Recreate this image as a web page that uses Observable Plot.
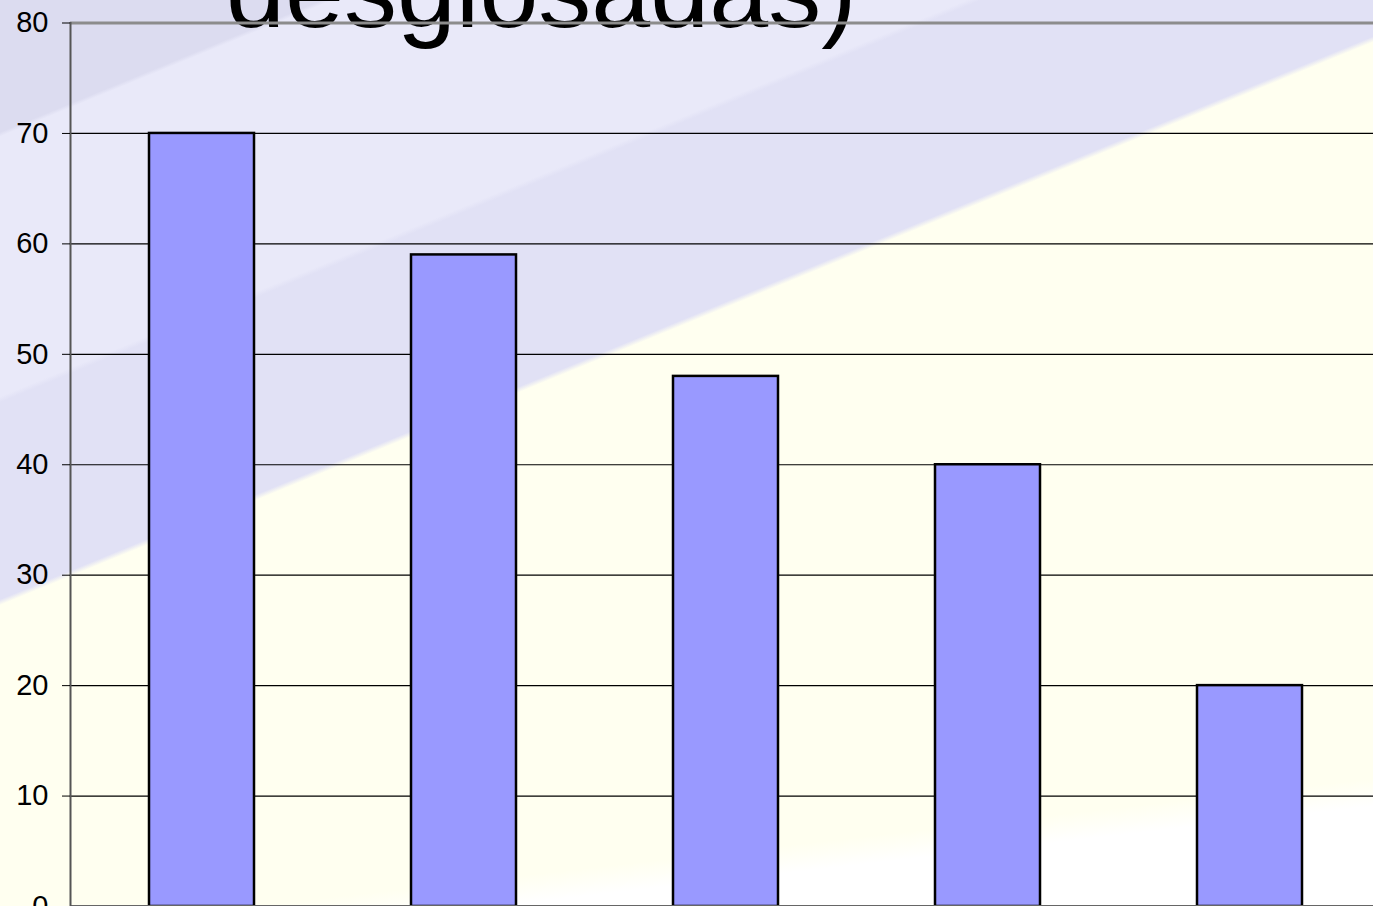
<!DOCTYPE html>
<html><head><meta charset="utf-8">
<script src="https://cdn.jsdelivr.net/npm/d3@7"></script>
<script src="https://cdn.jsdelivr.net/npm/@observablehq/plot@0.6"></script>
<style>
html,body{margin:0;padding:0;overflow:hidden;width:1373px;height:906px;}
#wrap{position:relative;width:1373px;height:906px;overflow:hidden;
 background:
  linear-gradient(173.5deg, rgba(255,255,255,0) 0%, rgba(255,255,255,0) 88%, rgba(255,255,250,0.7) 89.3%, #ffffff 90.6%, #ffffff 100%),
  linear-gradient(157.7deg, #dcdcf0 0%, #dcdcf0 9%, #e9e9f9 9.3%, #e9e9f9 27%, #e1e1f5 27.4%, #e1e1f5 40.8%, #fffff0 41.2%, #fffff0 100%);
}
#title{position:absolute;left:226px;top:-63px;font:106px/1 "Liberation Sans",Arial,sans-serif;color:#000;white-space:nowrap;z-index:0;}
#chart{position:absolute;left:0;top:0;z-index:1;}
</style></head><body>
<div id="wrap"><div id="title">desglosadas)</div><div id="chart"></div></div>
<script>
const categories = ["Categoría 1", "Categoría 2", "Categoría 3", "Categoría 4", "Categoría 5"];
const values = [70, 59, 48, 40, 20];
const yTicks = [0, 10, 20, 30, 40, 50, 60, 70, 80];
const gridTicks = [10, 20, 30, 40, 50, 60, 70];

const data = categories.map((c, i) => ({category: c, value: values[i]}));

const chart = Plot.plot({
  width: 1373,
  height: 906,
  marginLeft: 70,
  marginRight: -7,
  marginTop: 22.5,
  marginBottom: 0,
  style: {background: "transparent", fontFamily: "'Liberation Sans', Arial, sans-serif", fontSize: "29px", color: "#000", overflow: "visible"},
  x: {domain: categories, paddingInner: 0.6, paddingOuter: 0.3, axis: null},
  y: {domain: [0, 80], axis: null},
  marks: [
    Plot.gridY(gridTicks, {stroke: "#000", strokeOpacity: 1, strokeWidth: 1.2}),
    Plot.ruleY([80], {stroke: "#8c8c8c", strokeWidth: 3}),
    Plot.barY(data, {x: "category", y: "value", fill: "#9999ff", stroke: "#000", strokeWidth: 2.5}),
    Plot.ruleY([0], {stroke: "#666", strokeWidth: 3}),
    Plot.frame({anchor: "left", stroke: "#555", strokeWidth: 2}),
    Plot.axisY(yTicks, {tickSize: 8, tickPadding: 14, stroke: "#000", fill: "#000", label: null, fontSize: 29})
  ]
});
document.getElementById("chart").appendChild(chart);
</script>
</body></html>
